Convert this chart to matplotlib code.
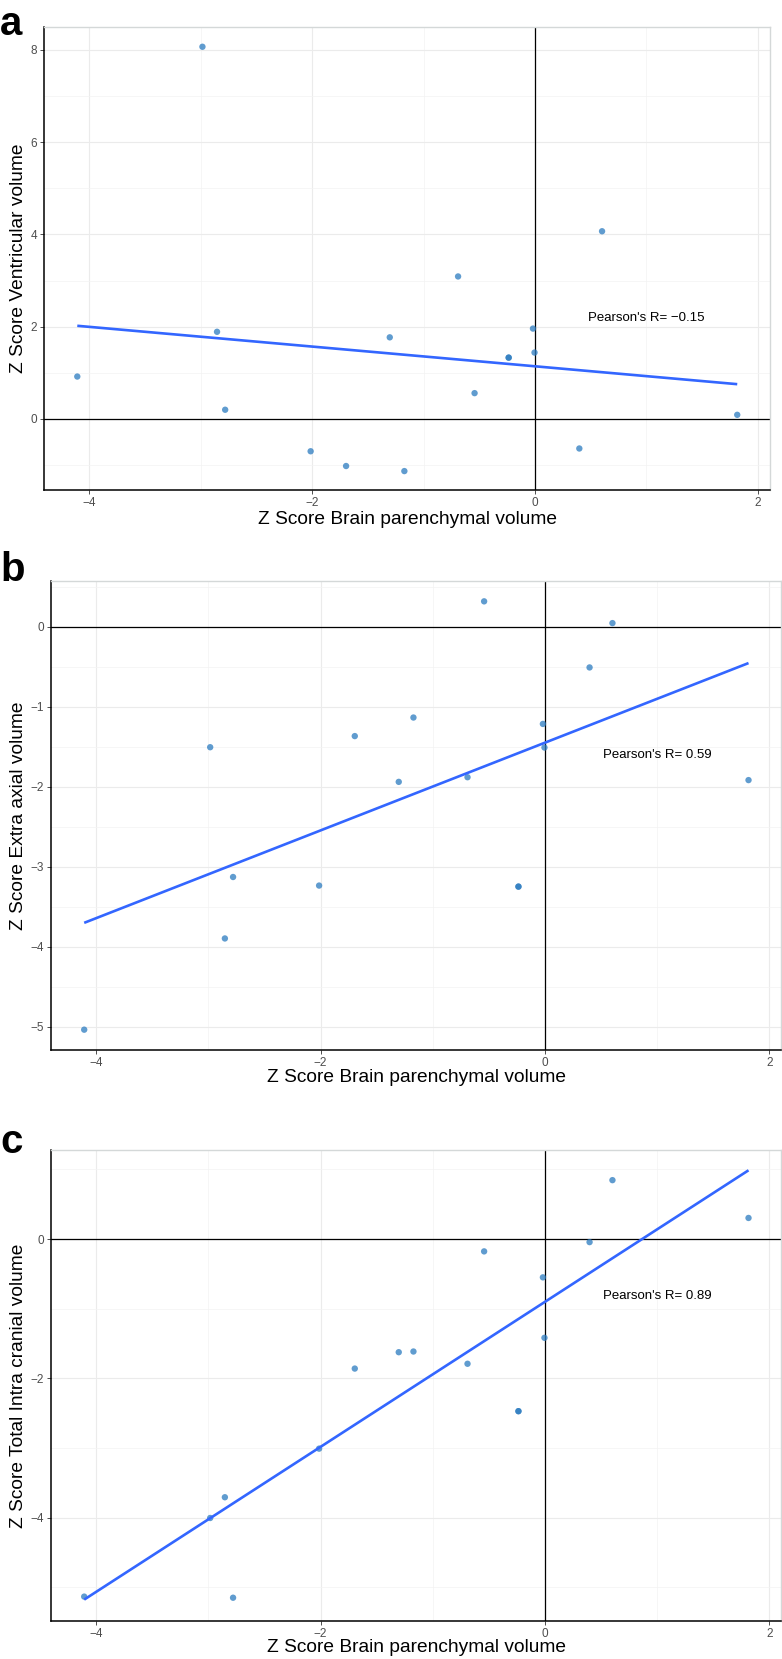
import matplotlib
matplotlib.use('Agg')
import matplotlib.pyplot as plt
from matplotlib.ticker import MultipleLocator
import numpy as np

plt.rcParams['font.family'] = ['Liberation Sans', 'DejaVu Sans']

# Z score brain parenchymal volume (shared x for all panels, one subject appears twice)
bpv = [-4.107, -2.984, -2.853, -2.780, -2.013, -1.695, -1.303, -1.172, -0.690,
       -0.542, -0.236, -0.236, -0.018, -0.004, 0.398, 0.602, 1.815]

# panel a: ventricular volume
ventricular = [0.92, 8.07, 1.89, 0.20, -0.70, -1.02, 1.77, -1.13, 3.09,
               0.56, 1.33, 1.33, 1.96, 1.44, -0.64, 4.07, 0.09]
# panel b: extra axial volume
extra_axial = [-5.036, -1.506, -3.896, -3.128, -3.235, -1.367, -1.939, -1.135, -1.881,
               0.317, -3.248, -3.248, -1.215, -1.510, -0.509, 0.045, -1.917]
# panel c: total intra cranial volume
intracranial = [-5.134, -4.005, -3.707, -5.150, -3.009, -1.859, -1.624, -1.614, -1.790,
                -0.176, -2.471, -2.471, -0.549, -1.417, -0.043, 0.847, 0.304]

panel_letters = ['a', 'b', 'c']
y_titles = ['Z Score Ventricular volume', 'Z Score Extra axial volume',
            'Z Score Total Intra cranial volume']
pearson_labels = ["Pearson's R= \u22120.15", "Pearson's R= 0.59", "Pearson's R= 0.89"]
x_title = 'Z Score Brain parenchymal volume'

W, H = 782, 1659
fig = plt.figure(figsize=(W / 100, H / 100), dpi=100, facecolor='white')

# panel boxes in pixels: left, right, top, bottom
boxes = [(44.3, 770, 26.7, 490), (51, 781.5, 580.7, 1050), (51, 781.5, 1150, 1620.7)]
ylims = [(-1.54, 8.505), (-5.29, 0.575), (-5.48, 1.28)]
ymajor = [2, 1, 2]
pearson_y = [2.2, -1.60, -0.81]
letter_base = [35, 581, 1153]
xlabel_y = [520, 1078, 1648]

ys_all = [ventricular, extra_axial, intracranial]
x = np.array(bpv)

for i in range(3):
    l, r, t, b = boxes[i]
    ax = fig.add_axes([l / W, 1 - b / H, (r - l) / W, (b - t) / H])
    y = np.array(ys_all[i])

    ax.axhline(0, color='black', lw=0.9, zorder=1)
    ax.axvline(0, color='black', lw=0.9, zorder=1)
    ax.scatter(x, y, s=21, color='#2B7BC0', alpha=0.75, edgecolors='none', zorder=3)

    # linear fit over the data range
    k, c0 = np.polyfit(x, y, 1)
    xf = np.array([x.min(), x.max()])
    ax.plot(xf, k * xf + c0, color='#3366FF', lw=1.9, zorder=4, solid_capstyle='butt')

    ax.text(1.0, pearson_y[i], pearson_labels[i], ha='center', va='center',
            fontsize=9.5, color='black')

    ax.set_xlim(-4.403, 2.109)
    ax.set_ylim(*ylims[i])
    ax.xaxis.set_major_locator(MultipleLocator(2))
    ax.xaxis.set_minor_locator(MultipleLocator(1))
    ax.yaxis.set_major_locator(MultipleLocator(ymajor[i]))
    ax.yaxis.set_minor_locator(MultipleLocator(ymajor[i] / 2))
    ax.grid(True, which='major', color='#EBEBEB', lw=0.8, zorder=0)
    ax.grid(True, which='minor', color='#F3F3F3', lw=0.5, zorder=0)
    ax.set_axisbelow(True)

    ax.tick_params(which='major', length=3, width=0.7, color='#4D4D4D',
                   labelcolor='#4D4D4D', labelsize=8.5, pad=2)
    ax.tick_params(which='minor', length=0)

    for s in ['left', 'bottom']:
        ax.spines[s].set_color('black')
        ax.spines[s].set_linewidth(1.1)
    for s in ['top', 'right']:
        ax.spines[s].set_color('#D4D8D8')
        ax.spines[s].set_linewidth(1.0)

    # axis titles and panel letter
    fig.text(19 / W, 1 - ((t + b) / 2) / H, y_titles[i], rotation=90,
             ha='center', va='center', fontsize=13.8, color='black')
    fig.text(((l + r) / 2) / W, 1 - xlabel_y[i] / H, x_title,
             ha='center', va='center', fontsize=13.8, color='black')
    fig.text(0.0, 1 - letter_base[i] / H, panel_letters[i], ha='left', va='baseline',
             fontsize=29, fontweight='bold', color='black')

fig.savefig('out.png', dpi=100, facecolor='white')
